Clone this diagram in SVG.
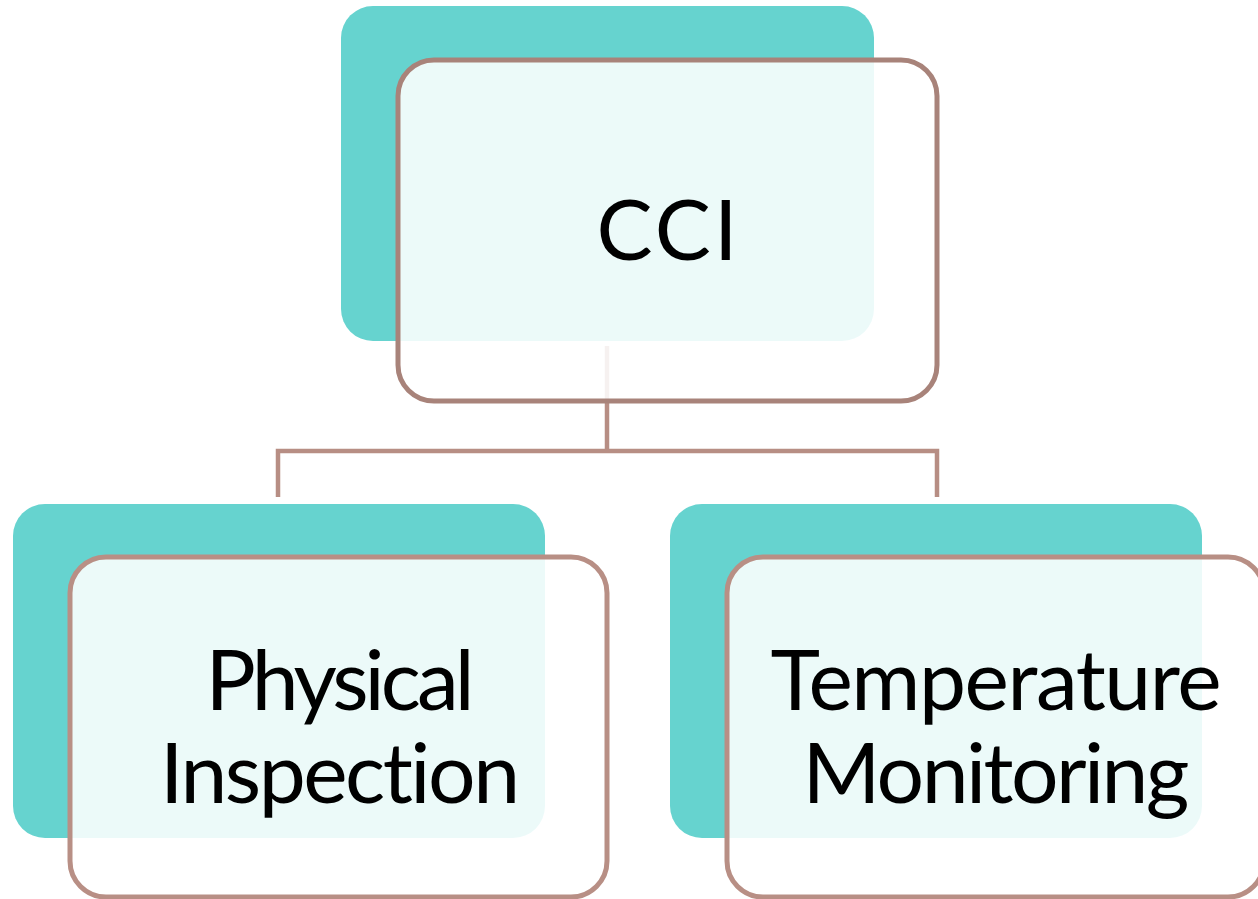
<svg xmlns="http://www.w3.org/2000/svg" width="1258" height="899" viewBox="0 0 1258 899">
  <style>
    .back { fill: #66d3cf; }
    .front { fill: #ffffff; fill-opacity: 0.88; stroke: #b88f85; stroke-width: 5; }
    .front.top { stroke: #a8837a; }
    .link { fill: none; stroke: #b78e84; stroke-width: 4.5; }
    .label { font-family: "Lato", "Open Sans", sans-serif; font-size: 84px; fill: #000000; text-anchor: middle; font-variant-ligatures: none; font-feature-settings: "liga" 0, "dlig" 0; }
  </style>
  <rect width="1258" height="899" fill="#ffffff"/>

  <g id="connectors">
    <line class="link" x1="607" y1="346" x2="607" y2="452"/>
    <polyline class="link" points="278,497 278,451 937,451 937,497"/>
  </g>

  <g id="node-cci">
    <rect class="back" x="341" y="6" width="533" height="335" rx="32"/>
    <rect class="front top" x="398" y="60" width="539" height="341" rx="36"/>
    <text class="label" x="667" y="260" textLength="141">CCI</text>
  </g>

  <g id="node-physical">
    <rect class="back" x="13" y="504" width="532" height="334" rx="32"/>
    <rect class="front" x="70" y="557" width="537" height="340" rx="36"/>
    <text class="label" x="340" y="710" textLength="269">Physical</text>
    <text class="label" x="340" y="803" textLength="360">Inspection</text>
  </g>

  <g id="node-temperature">
    <rect class="back" x="670" y="504" width="532" height="334" rx="32"/>
    <rect class="front" x="727" y="557" width="537" height="340" rx="36"/>
    <text class="label" x="996" y="710" textLength="451">Temperature</text>
    <text class="label" x="996" y="803" textLength="387">Monitoring</text>
  </g>
</svg>
